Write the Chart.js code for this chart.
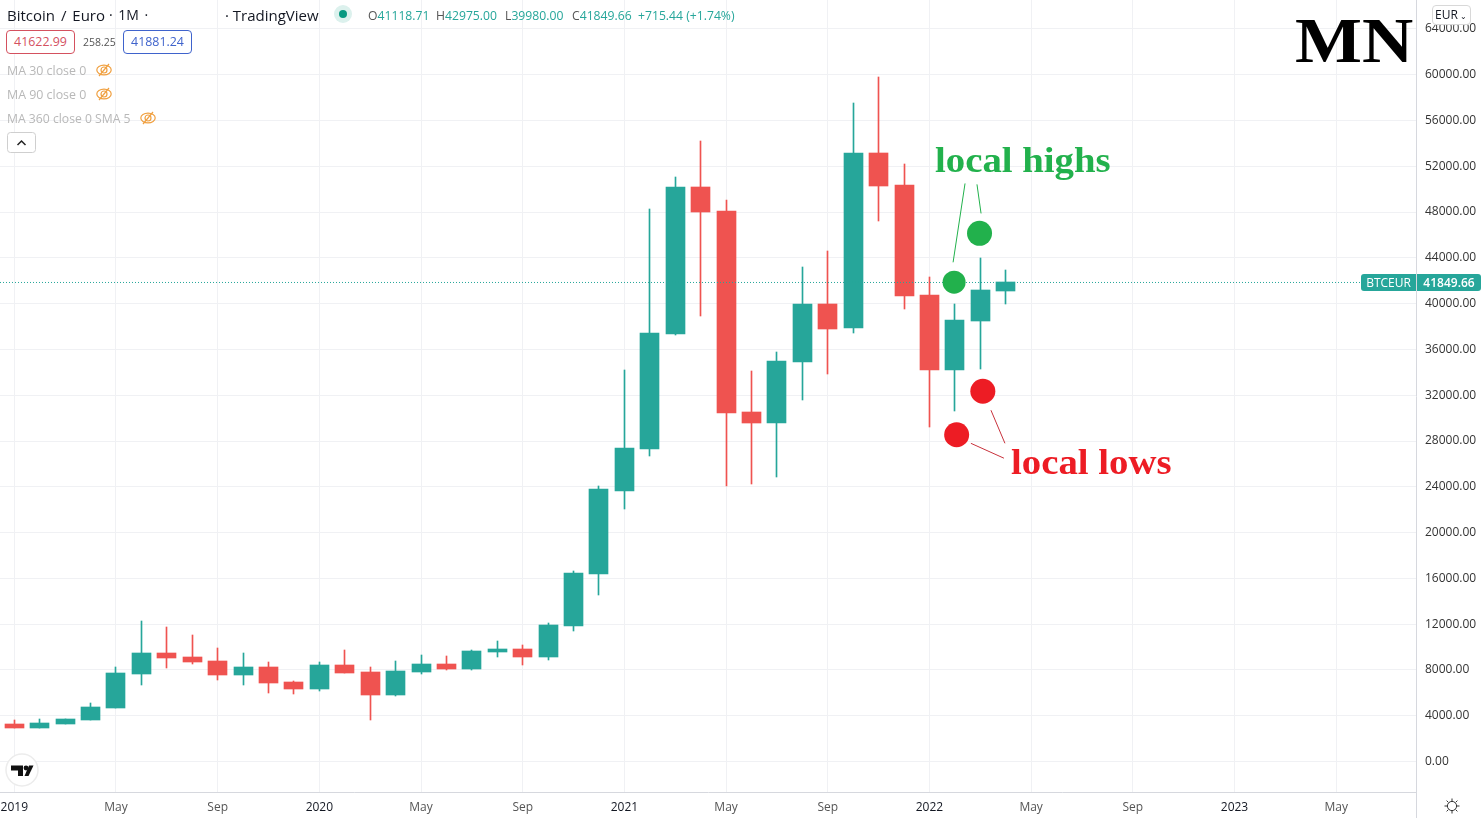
<!DOCTYPE html>
<html>
<head>
<meta charset="utf-8">
<title>Bitcoin / Euro</title>
<script src="https://cdn.jsdelivr.net/npm/chart.js@4/dist/chart.umd.js"></script>
<style>
html, body { margin: 0; padding: 0; background: #fff; overflow: hidden; }
body { width: 1484px; height: 818px; position: relative; font-family: "Open Sans", sans-serif; color: #131722; }
canvas { position: absolute; left: 0; top: 0; }
.t { position: absolute; white-space: nowrap; line-height: 1; }
.ohlc { font-size: 12.2px; color: #26a69a; top: 10px; }
.ohlc b { font-weight: 400; color: #555; }
.box { position: absolute; top: 30px; height: 22px; line-height: 22px; width: 67px; text-align: center; font-size: 12.4px; background: #fff; border-radius: 4px; }
.ma { font-size: 12.4px; color: #b8b8b8; left: 7px; }
.big { font-family: "Liberation Serif", serif; font-weight: 700; transform-origin: left top; transform: scaleX(1.108); }
svg { position: absolute; }
</style>
</head>
<body>
<canvas id="grafico" width="1484" height="818"></canvas>

<div class="t" style="left:7px;top:8px;font-size:15px;word-spacing:2px">Bitcoin / Euro</div>
<div class="t" style="left:109px;top:8px;font-size:14px;word-spacing:2px">· 1M ·</div>
<div class="t" style="left:225px;top:8px;font-size:15px">· TradingView</div>
<svg style="left:334px;top:5px" width="18" height="18"><circle cx="9" cy="9" r="9" fill="#dcf1ed"/><circle cx="9" cy="9" r="4" fill="#089981"/></svg>
<div class="t ohlc" style="left:368px"><b>O</b>41118.71</div>
<div class="t ohlc" style="left:436px"><b>H</b>42975.00</div>
<div class="t ohlc" style="left:505px"><b>L</b>39980.00</div>
<div class="t ohlc" style="left:572px"><b>C</b>41849.66</div>
<div class="t ohlc" style="left:638px">+715.44 (+1.74%)</div>

<div class="box" style="left:6px;border:1px solid #d4515f;color:#d4515f">41622.99</div>
<div class="t" style="left:83px;top:37px;font-size:10.5px;color:#555">258.25</div>
<div class="box" style="left:123px;border:1px solid #3f63cc;color:#3f63cc">41881.24</div>

<div class="t ma" style="top:65px">MA 30 close 0</div>
<div class="t ma" style="top:89px">MA 90 close 0</div>
<div class="t ma" style="top:113px;font-size:12.2px">MA 360 close 0 SMA 5</div>
<svg style="left:96px;top:63px" width="16" height="14"><g fill="none" stroke="#f0a040" stroke-width="1.2"><ellipse cx="8" cy="7" rx="7.2" ry="4.8"/><circle cx="8" cy="7" r="3"/><path d="M3 13 13 1"/></g></svg>
<svg style="left:96px;top:87px" width="16" height="14"><g fill="none" stroke="#f0a040" stroke-width="1.2"><ellipse cx="8" cy="7" rx="7.2" ry="4.8"/><circle cx="8" cy="7" r="3"/><path d="M3 13 13 1"/></g></svg>
<svg style="left:140px;top:111px" width="16" height="14"><g fill="none" stroke="#f0a040" stroke-width="1.2"><ellipse cx="8" cy="7" rx="7.2" ry="4.8"/><circle cx="8" cy="7" r="3"/><path d="M3 13 13 1"/></g></svg>
<svg style="left:7px;top:132px" width="30" height="22"><rect x=".5" y=".5" width="28" height="20" rx="3" fill="#fff" stroke="#cfcfcf"/><path d="M10.5 13 14.5 9 18.5 13" fill="none" stroke="#222" stroke-width="1.5"/></svg>

<div class="t big" style="left:1295px;top:9px;font-size:64px;color:#000">MN</div>
<div class="t big" style="left:935px;top:143px;font-size:35px;color:#22b14c">local highs</div>
<div class="t big" style="left:1011px;top:445px;font-size:35px;color:#ed1c24">local lows</div>

<div class="t" style="left:1432px;top:5px;width:36px;height:18px;line-height:18px;border:1px solid #d8d8d8;border-radius:4px;background:#fff;font-size:12px;text-align:center;padding-right:1px">EUR<span style="font-size:8px"> ⌄</span></div>

<div class="t" style="left:1361px;top:274px;width:55px;height:17px;line-height:17px;background:#26a69a;color:#fff;font-size:12px;text-align:center;border-radius:3px 0 0 3px">BTCEUR</div>
<div class="t" style="left:1417px;top:274px;width:64px;height:17px;line-height:17px;background:#26a69a;color:#fff;font-size:12px;font-weight:600;text-align:center;border-radius:0 3px 3px 0">41849.66</div>

<svg style="left:5px;top:753px" width="34" height="34"><circle cx="17" cy="17" r="16" fill="#fff" stroke="#ececec" stroke-width="1.5"/><path d="M6 12.5H18V23H13V17.5H6Z" fill="#111"/><circle cx="21" cy="15" r="2.4" fill="#111"/><path d="M23 23 28 12.5H23.5L19 23Z" fill="#111" transform="translate(0.5 0)"/></svg>
<div style="position:absolute;left:1416px;top:792px;width:1px;height:26px;background:#d6d8de"></div>
<svg style="left:1444px;top:798px" width="16" height="16"><g fill="none" stroke="#333"><circle cx="8" cy="8" r="4.6"/><path d="M8 .5V3M8 13V15.5M.5 8H3M13 8H15.5M2.6 2.6 4.4 4.4M11.6 11.6 13.4 13.4M2.6 13.4 4.4 11.6M11.6 4.4 13.4 2.6"/></g></svg>

<script>
// monthly candles, Jan 2019 .. Apr 2022
var opens  = [3270,2930,3270,3620,4670,7640,9470,9120,8770,7550,8250,6940,6330,8420,7810,5800,7810,8510,8080,9560,9820,9120,11830,16370,23620,27280,37320,50150,48060,30510,29550,34880,39940,37850,53120,50330,40730,34180,38460,41118.71];
var highs  = [3620,3710,3710,5110,8250,12270,11740,11040,9910,9470,8690,7030,8690,9730,8250,8770,9300,9210,9730,10520,10170,12090,16630,24050,34180,48230,51030,54170,49020,34090,35750,43170,44570,57490,59760,52160,42300,39940,43960,42975];
var lows   = [2930,2930,3270,3620,4670,6680,8160,8510,7120,6680,5980,5890,6150,7730,3620,5720,7640,7990,7990,9120,8420,8860,11390,14540,22040,26670,37230,38890,24050,24230,24840,31560,33830,37410,47190,39500,29200,30600,34270,39980];
var closes = [2930,3360,3710,4760,7730,9470,9040,8690,7550,8250,6850,6330,8420,7730,5800,7900,8510,8080,9650,9820,9120,11920,16460,23790,27370,37410,50150,47970,30420,29550,34960,39940,37760,53120,50240,40640,34180,38540,41160,41849.66];

// x tick positions are candle indexes
var xTickValues = [0,4,8,12,16,20,24,28,32,36,40,44,48,52];
var xTickLabels = ['2019','May','Sep','2020','May','Sep','2021','May','Sep','2022','May','Sep','2023','May'];
var yTickValues = [0,4000,8000,12000,16000,20000,24000,28000,32000,36000,40000,44000,48000,52000,56000,60000,64000];

var lastPrice = [41849.66];
var highMarkers = [{x:36.97,y:41870},{x:37.97,y:46140}];
var lowMarkers  = [{x:38.1,y:32350},{x:37.07,y:28550}];
var highLeader1 = [{x:37.4,y:50500},{x:36.93,y:43610}];
var highLeader2 = [{x:37.87,y:50420},{x:38.03,y:47880}];
var lowLeader1  = [{x:38.42,y:30690},{x:38.97,y:27800}];
var lowLeader2  = [{x:37.63,y:27800},{x:38.93,y:26500}];

var verde = '#26a69a', vermelho = '#ef5350', grade = '#f0f1f4', eixo = '#d6d8de';

var candleColors = opens.map(function (o, i) { return closes[i] >= o ? verde : vermelho; });
var wickData = highs.map(function (h, i) { return {x: i, y: [lows[i], h]}; });
var bodyData = opens.map(function (o, i) { return {x: i, y: [o, closes[i]]}; });

function leader(data, color) {
    return {type: 'line', data: data, borderColor: color, borderWidth: 1, pointRadius: 0, order: 1};
}

function noPadding(scale) {
    scale.paddingTop = 0; scale.paddingBottom = 0; scale.paddingLeft = 0; scale.paddingRight = 0;
}

// candles snap to whole pixels so wicks stay 1px wide
var snapCandles = {
    id: 'snapCandles',
    beforeDatasetDraw: function (chart, args) {
        if (args.index > 1) return;
        args.meta.data.forEach(function (el) {
            el.x = Math.floor(el.x) + 0.5;
            el.y = Math.round(el.y);
            el.base = Math.round(el.base);
        });
    }
};

var ctx = document.getElementById('grafico').getContext('2d');
var myChart = new Chart(ctx, {
    type: 'bar',
    plugins: [snapCandles],
    data: {
        datasets: [
            {data: wickData, backgroundColor: candleColors, barThickness: 1, grouped: false, borderWidth: 0, order: 5},
            {data: bodyData, backgroundColor: candleColors, barThickness: 19, grouped: false, borderWidth: 0, order: 4},
            {type: 'line', data: [{x: -0.5625, y: lastPrice[0]}, {x: 52.95, y: lastPrice[0]}], borderColor: verde, borderWidth: 1, borderDash: [1, 2], pointRadius: 0, order: 3},
            {type: 'scatter', data: highMarkers, backgroundColor: '#22b14c', borderWidth: 0, pointRadius: [11.5, 12.5], order: 2},
            {type: 'scatter', data: lowMarkers, backgroundColor: '#ed1c24', borderWidth: 0, pointRadius: 12.5, order: 2},
            leader(highLeader1, '#22b14c'),
            leader(highLeader2, '#22b14c'),
            leader(lowLeader1, '#c8323c'),
            leader(lowLeader2, '#c8323c')
        ]
    },
    options: {
        responsive: false,
        animation: false,
        layout: {padding: 0, autoPadding: false},
        plugins: {legend: {display: false}, tooltip: {enabled: false}},
        scales: {
            x: {
                type: 'linear',
                offset: false,
                min: -0.5625,
                max: 55.14,
                grid: {color: grade, drawTicks: false, offset: false},
                border: {color: eixo},
                afterBuildTicks: function (scale) {
                    scale.ticks = xTickValues.map(function (v) { return {value: v}; });
                },
                afterFit: function (scale) { scale.height = 26; noPadding(scale); },
                ticks: {
                    autoSkip: false,
                    maxRotation: 0,
                    padding: 8,
                    font: {family: '"Open Sans"', size: 12},
                    color: function (c) {
                        return /^20/.test(xTickLabels[c.index]) ? '#131722' : '#555';
                    },
                    callback: function (v, i) { return xTickLabels[i]; }
                }
            },
            y: {
                position: 'right',
                min: -2660,
                max: 66525,
                grid: {color: grade, drawTicks: false},
                border: {color: eixo},
                afterBuildTicks: function (scale) {
                    scale.ticks = yTickValues.map(function (v) { return {value: v}; });
                },
                afterFit: function (scale) { scale.width = 68; noPadding(scale); },
                ticks: {
                    autoSkip: false,
                    padding: 9,
                    font: {family: '"Open Sans"', size: 12},
                    color: '#333',
                    callback: function (v) { return v.toFixed(2); }
                }
            }
        }
    }
});
</script>
</body>
</html>
